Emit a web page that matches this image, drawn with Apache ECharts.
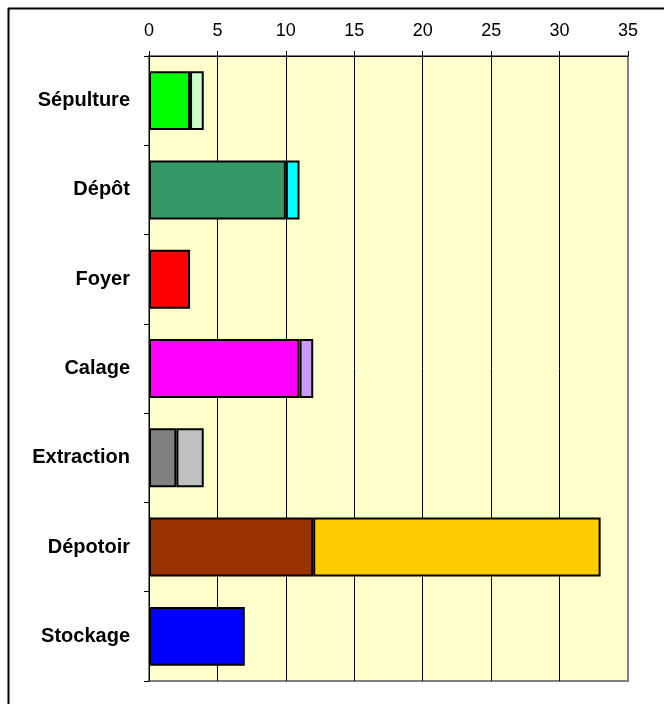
<!DOCTYPE html>
<html>
<head>
<meta charset="utf-8">
<script src="https://cdn.jsdelivr.net/npm/echarts@6/dist/echarts.min.js"></script>
<style>
  html, body { margin: 0; padding: 0; background: #fff; }
  #chart { width: 664px; height: 704px; }
</style>
</head>
<body>
<div id="chart"></div>
<script>
// Structure types, top to bottom
const categories = ['Sépulture', 'Dépôt', 'Foyer', 'Calage', 'Extraction', 'Dépotoir', 'Stockage'];
// First and second stacked segments
const firstValues = [3, 10, 3, 11, 2, 12, 7];
const secondValues = [1, 1, 0, 1, 2, 21, 0];
// Segment colours per category
const firstColors = ['#00FF00', '#339966', '#FF0000', '#FF00FF', '#808080', '#993300', '#0000FF'];
const secondColors = ['#CCFFCC', '#00FFFF', '#FF0000', '#CC99FF', '#C0C0C0', '#FFCC00', '#0000FF'];
// Value axis ticks
const xTicks = [0, 5, 10, 15, 20, 25, 30, 35];

const chart = echarts.init(document.getElementById('chart'), null, { renderer: 'canvas' });

const segStyle = { borderColor: '#000', borderWidth: 2 };

chart.setOption({
  animation: false,
  backgroundColor: '#fff',
  textStyle: { fontFamily: 'Liberation Sans, Arial, sans-serif' },
  graphic: [
    { type: 'line', shape: { x1: 8, y1: 8.5, x2: 664, y2: 8.5 }, style: { stroke: '#000', lineWidth: 2 }, silent: true },
    { type: 'line', shape: { x1: 8.5, y1: 8, x2: 8.5, y2: 704 }, style: { stroke: '#000', lineWidth: 2 }, silent: true }
  ],
  grid: {
    left: 149, top: 56, right: 36, bottom: 23,
    show: true, backgroundColor: '#FFFFCC', borderColor: '#808080', borderWidth: 2
  },
  xAxis: {
    type: 'value', position: 'top',
    min: xTicks[0], max: xTicks[xTicks.length - 1], interval: 5,
    axisLine: { show: true, lineStyle: { color: '#000', width: 1 } },
    axisTick: { show: true, length: 5, lineStyle: { color: '#000' } },
    axisLabel: { fontSize: 18, color: '#000', margin: 16 },
    splitLine: { show: true, showMaxLine: false, lineStyle: { color: '#000', width: 1 } }
  },
  yAxis: {
    type: 'category', inverse: true, data: categories,
    axisLine: { show: true, lineStyle: { color: '#000', width: 1 } },
    axisTick: { show: true, length: 5, lineStyle: { color: '#000' } },
    axisLabel: { fontSize: 20, fontWeight: 'bold', color: '#000', margin: 19 },
    splitLine: { show: false }
  },
  series: [
    {
      type: 'bar', stack: 'total', barCategoryGap: '34%',
      data: firstValues.map((v, i) => ({ value: v, itemStyle: Object.assign({ color: firstColors[i] }, segStyle) }))
    },
    {
      type: 'bar', stack: 'total', barCategoryGap: '34%',
      data: secondValues.map((v, i) => ({ value: v, itemStyle: Object.assign({ color: secondColors[i] }, segStyle, v === 0 ? { borderWidth: 0 } : {}) }))
    }
  ]
});
</script>
</body>
</html>
